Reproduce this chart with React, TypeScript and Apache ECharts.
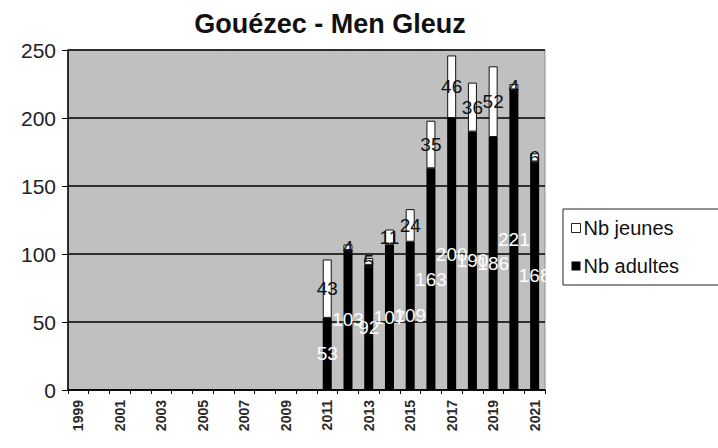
import React, { useEffect, useRef } from "react";
import * as echarts from "echarts";

const years = ["1999","2000","2001","2002","2003","2004","2005","2006","2007","2008","2009","2010","2011","2012","2013","2014","2015","2016","2017","2018","2019","2020","2021"];
const adultes = [null,null,null,null,null,null,null,null,null,null,null,null,53,103,92,107,109,163,200,190,186,221,168];
const jeunes = [null,null,null,null,null,null,null,null,null,null,null,null,43,4,5,11,24,35,46,36,52,4,6];
const yTicks = [0, 50, 100, 150, 200, 250];

export default function App() {
  const ref = useRef<HTMLDivElement>(null);
  useEffect(() => {
    if (!ref.current) return;
    const chart = echarts.init(ref.current, null, { renderer: "svg" });
    const font = "Liberation Sans, Arial, sans-serif";
    chart.setOption({
      animation: false,
      backgroundColor: "#fff",
      textStyle: { fontFamily: font },
      title: {
        text: "Gouézec - Men Gleuz",
        left: 325,
        textAlign: "center",
        top: 5,
        textStyle: { fontSize: 27, fontWeight: "bold", color: "#111", fontFamily: font },
      },
      grid: {
        left: 68, right: 173, top: 50, bottom: 58,
        show: true, backgroundColor: "#c0c0c0", borderColor: "#909090", borderWidth: 1,
      },
      legend: {
        orient: "vertical",
        left: 563,
        top: 209,
        padding: [9, 40, 9, 8],
        itemGap: 18,
        itemWidth: 9,
        itemHeight: 9,
        borderColor: "#222",
        borderWidth: 1,
        textStyle: { fontSize: 20, color: "#111", fontFamily: font, padding: [0, 0, 0, -2] },
        data: [
          { name: "Nb jeunes", icon: "rect", itemStyle: { color: "#fff", borderColor: "#222", borderWidth: 1 } },
          { name: "Nb adultes", icon: "rect", itemStyle: { color: "#000" } },
        ],
      },
      xAxis: {
        type: "category",
        data: years,
        axisLine: { lineStyle: { color: "#000", width: 1.5 } },
        axisTick: { show: true, interval: 0, length: 4, lineStyle: { color: "#000" } },
        axisLabel: {
          interval: 1, rotate: 90, fontSize: 14, fontWeight: "bold", color: "#2a2a2a", margin: 10,
        },
      },
      yAxis: {
        type: "value",
        min: yTicks[0],
        max: yTicks[yTicks.length - 1],
        interval: 50,
        axisLine: { show: true, lineStyle: { color: "#000", width: 1.5 } },
        axisTick: { show: true, length: 6, lineStyle: { color: "#000" } },
        splitLine: { show: true, lineStyle: { color: "#000", width: 1.5 } },
        axisLabel: { fontSize: 21, color: "#222", margin: 12 },
      },
      series: [
        {
          name: "Nb adultes",
          type: "bar",
          stack: "t",
          barWidth: 9,
          data: adultes,
          itemStyle: { color: "#000" },
          label: {
            show: true, position: "inside", color: "#fff", fontSize: 19, fontFamily: font,
          },
        },
        {
          name: "Nb jeunes",
          type: "bar",
          stack: "t",
          barWidth: 9,
          data: jeunes,
          itemStyle: { color: "#fff", borderColor: "#111", borderWidth: 1 },
          label: {
            show: true, position: "inside", color: "#111", fontSize: 19, fontFamily: font,
          },
        },
      ],
    });
    return () => chart.dispose();
  }, []);
  return <div ref={ref} style={{ position: "fixed", left: 0, top: 0, width: 718, height: 448 }} />;
}
